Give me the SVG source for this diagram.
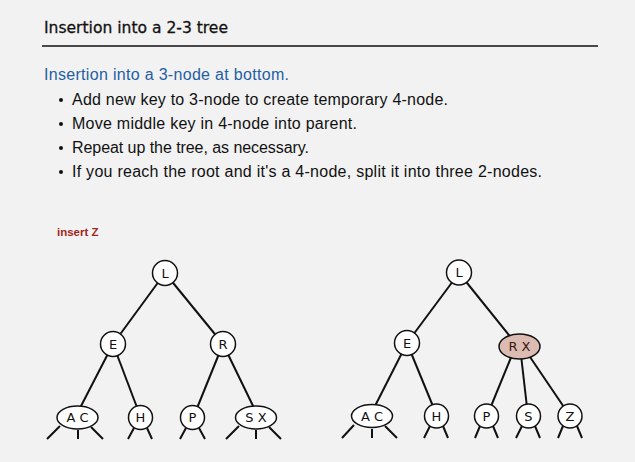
<svg xmlns="http://www.w3.org/2000/svg" width="635" height="462" viewBox="0 0 635 462">
  <style>
    .title { font-family: "DejaVu Sans", "Liberation Sans", sans-serif; font-size: 16px; fill: #111; stroke: #111; stroke-width: 0.3; }
    .sub { font-family: "Liberation Sans", "DejaVu Sans", sans-serif; font-size: 16px; fill: #1f5fa3; }
    .bul { font-family: "Liberation Sans", "DejaVu Sans", sans-serif; font-size: 16px; fill: #111; }
    .lab { font-family: "Liberation Sans", "DejaVu Sans", sans-serif; font-size: 11.5px; font-weight: bold; fill: #a3261a; }
    .edge { stroke: #111; stroke-width: 2; fill: none; }
    .stub { stroke: #111; stroke-width: 2; fill: none; }
    .node { fill: #fff; stroke: #111; stroke-width: 1.5; }
    .hot { fill: #dcbbb3; stroke: #111; stroke-width: 1.5; }
    .key { font-family: "DejaVu Sans", "Liberation Sans", sans-serif; font-size: 13px; fill: #111; text-anchor: middle; }
    .hotkey { fill: #3a1812; }
  </style>
  <rect width="635" height="462" fill="#f2f2f2"/>

  <!-- heading -->
  <text class="title" x="44" y="33" textLength="184" lengthAdjust="spacingAndGlyphs">Insertion into a 2-3 tree</text>
  <line x1="42" y1="46" x2="598" y2="46" stroke="#111" stroke-width="1.3"/>

  <text class="sub" x="44" y="80" textLength="245" lengthAdjust="spacing">Insertion into a 3-node at bottom.</text>
  <g class="bul">
    <circle cx="61" cy="100" r="2" fill="#111"/>
    <text x="72" y="105" textLength="376" lengthAdjust="spacing">Add new key to 3-node to create temporary 4-node.</text>
    <circle cx="61" cy="124" r="2" fill="#111"/>
    <text x="72" y="129" textLength="285" lengthAdjust="spacing">Move middle key in 4-node into parent.</text>
    <circle cx="61" cy="148" r="2" fill="#111"/>
    <text x="72" y="153" textLength="237" lengthAdjust="spacing">Repeat up the tree, as necessary.</text>
    <circle cx="61" cy="172" r="2" fill="#111"/>
    <text x="72" y="177" textLength="470" lengthAdjust="spacing">If you reach the root and it's a 4-node, split it into three 2-nodes.</text>
  </g>

  <text class="lab" x="57" y="236">insert Z</text>

  <!-- connectors -->
  <g id="connectors">
    <!-- left tree -->
    <line class="edge" x1="165" y1="273" x2="113" y2="344"/>
    <line class="edge" x1="165" y1="273" x2="223" y2="344"/>
    <line class="edge" x1="113" y1="344" x2="80" y2="408"/>
    <line class="edge" x1="113" y1="344" x2="141" y2="418"/>
    <line class="edge" x1="223" y1="344" x2="193" y2="418"/>
    <line class="edge" x1="223" y1="344" x2="255" y2="410"/>
    <!-- right tree -->
    <line class="edge" x1="459" y1="273" x2="407" y2="343"/>
    <line class="edge" x1="459" y1="273" x2="517" y2="345"/>
    <line class="edge" x1="407" y1="343" x2="374" y2="408"/>
    <line class="edge" x1="407" y1="343" x2="437" y2="416"/>
    <line class="edge" x1="512" y1="355" x2="487" y2="416"/>
    <line class="edge" x1="521" y1="355" x2="528" y2="416"/>
    <line class="edge" x1="528" y1="354" x2="570" y2="416"/>
    <!-- null links below left-tree leaves -->
    <path class="stub" d="M60 426 L47 439 M78 430 L78 439 M91 427 L103 439"/>
    <path class="stub" d="M134 428 L128 439 M147 428 L152 439"/>
    <path class="stub" d="M186 428 L180 439 M199 428 L205 439"/>
    <path class="stub" d="M239 426 L226 439 M256 430 L256 439 M269 427 L281 439"/>
    <!-- null links below right-tree leaves -->
    <path class="stub" d="M354 425 L342 438 M372 429 L372 438 M385 426 L397 438"/>
    <path class="stub" d="M430 426 L424 438 M443 426 L448 438"/>
    <path class="stub" d="M480 426 L475 438 M493 426 L498 438"/>
    <path class="stub" d="M522 426 L516 438 M535 426 L540 438"/>
    <path class="stub" d="M563 426 L558 438 M577 426 L582 438"/>
  </g>

  <!-- left tree nodes -->
  <g id="l-L"><circle class="node" cx="165" cy="273" r="12.5"/><text class="key" x="165" y="277.5">L</text></g>
  <g id="l-E"><circle class="node" cx="113" cy="344" r="12.5"/><text class="key" x="113" y="348.5">E</text></g>
  <g id="l-R"><circle class="node" cx="223" cy="344" r="12.5"/><text class="key" x="223" y="348.5">R</text></g>
  <g id="l-AC"><ellipse class="node" cx="77.5" cy="417.5" rx="20.5" ry="11.5"/><text class="key" x="77.5" y="422">A C</text></g>
  <g id="l-H"><circle class="node" cx="140.5" cy="417.5" r="12"/><text class="key" x="140.5" y="422">H</text></g>
  <g id="l-P"><circle class="node" cx="192.5" cy="417.5" r="12"/><text class="key" x="192.5" y="422">P</text></g>
  <g id="l-SX"><ellipse class="node" cx="256" cy="417.5" rx="20.5" ry="11.5"/><text class="key" x="256" y="422">S X</text></g>

  <!-- right tree nodes -->
  <g id="r-L"><circle class="node" cx="459" cy="272.5" r="12.5"/><text class="key" x="459" y="277">L</text></g>
  <g id="r-E"><circle class="node" cx="407" cy="343" r="12.5"/><text class="key" x="407" y="347.5">E</text></g>
  <g id="r-RX"><ellipse class="hot" cx="519.5" cy="346.5" rx="20.5" ry="12.5"/><text class="key hotkey" x="519.5" y="351">R X</text></g>
  <g id="r-AC"><ellipse class="node" cx="372" cy="416" rx="20.5" ry="11.5"/><text class="key" x="372" y="420.5">A C</text></g>
  <g id="r-H"><circle class="node" cx="436.5" cy="416" r="12"/><text class="key" x="436.5" y="420.5">H</text></g>
  <g id="r-P"><circle class="node" cx="486.5" cy="416" r="12"/><text class="key" x="486.5" y="420.5">P</text></g>
  <g id="r-S"><circle class="node" cx="528.5" cy="416" r="12"/><text class="key" x="528.5" y="420.5">S</text></g>
  <g id="r-Z"><circle class="node" cx="570" cy="416" r="12"/><text class="key" x="570" y="420.5">Z</text></g>
</svg>
